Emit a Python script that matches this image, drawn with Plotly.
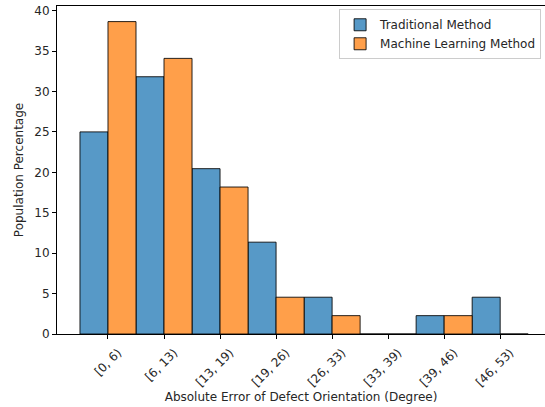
import plotly.graph_objects as go

categories = ["[0, 6)", "[6, 13)", "[13, 19)", "[19, 26)", "[26, 33)", "[33, 39)", "[39, 46)", "[46, 53)"]
traditional = [25.00, 31.82, 20.45, 11.36, 4.55, 0.0, 2.27, 4.55]
machine_learning = [38.64, 34.09, 18.18, 4.55, 2.27, 0.0, 2.27, 0.0]
y_ticks = [0, 5, 10, 15, 20, 25, 30, 35, 40]

idx = list(range(len(categories)))
font = dict(family="DejaVu Sans", size=12, color="#262626")

fig = go.Figure()
fig.add_trace(go.Bar(
    x=[i - 0.25 for i in idx], y=traditional, width=0.5, name="Traditional Method",
    marker=dict(color="#5799c7", line=dict(color="rgba(0,0,0,0.85)", width=1)),
))
fig.add_trace(go.Bar(
    x=[i + 0.25 for i in idx], y=machine_learning, width=0.5, name="Machine Learning Method",
    marker=dict(color="#ff9f4a", line=dict(color="rgba(0,0,0,0.85)", width=1)),
))

fig.update_layout(
    width=545, height=407,
    margin=dict(l=57, r=0, t=6, b=73, autoexpand=False),
    paper_bgcolor="white", plot_bgcolor="white",
    font=font,
    barmode="overlay",
    showlegend=True,
    legend=dict(x=0.992, y=0.99, xanchor="right", yanchor="top",
                bordercolor="#cccccc", borderwidth=1, bgcolor="rgba(255,255,255,0.8)",
                font=font, tracegroupgap=0),
    xaxis=dict(
        range=[-0.91, 7.80], tickmode="array", tickvals=idx, ticktext=categories,
        tickangle=-45, ticks="outside", ticklen=4, tickcolor="black",
        showline=True, linecolor="black", linewidth=1, mirror=True,
        showgrid=False, zeroline=False, automargin=False,
        ticklabelshift=10, ticklabelstandoff=2,
        title=dict(text="Absolute Error of Defect Orientation (Degree)", font=font, standoff=4),
    ),
    yaxis=dict(
        range=[0, 40.57], tickmode="array", tickvals=y_ticks,
        ticks="outside", ticklen=4, tickcolor="black",
        showline=True, linecolor="black", linewidth=1,
        showgrid=False, zeroline=False, automargin=False,
        title=dict(text="Population Percentage", font=font, standoff=8),
    ),
)

fig.write_html("out.html", config={"displayModeBar": False},
               post_script="document.body.style.margin='0';document.body.style.overflow='hidden';")
